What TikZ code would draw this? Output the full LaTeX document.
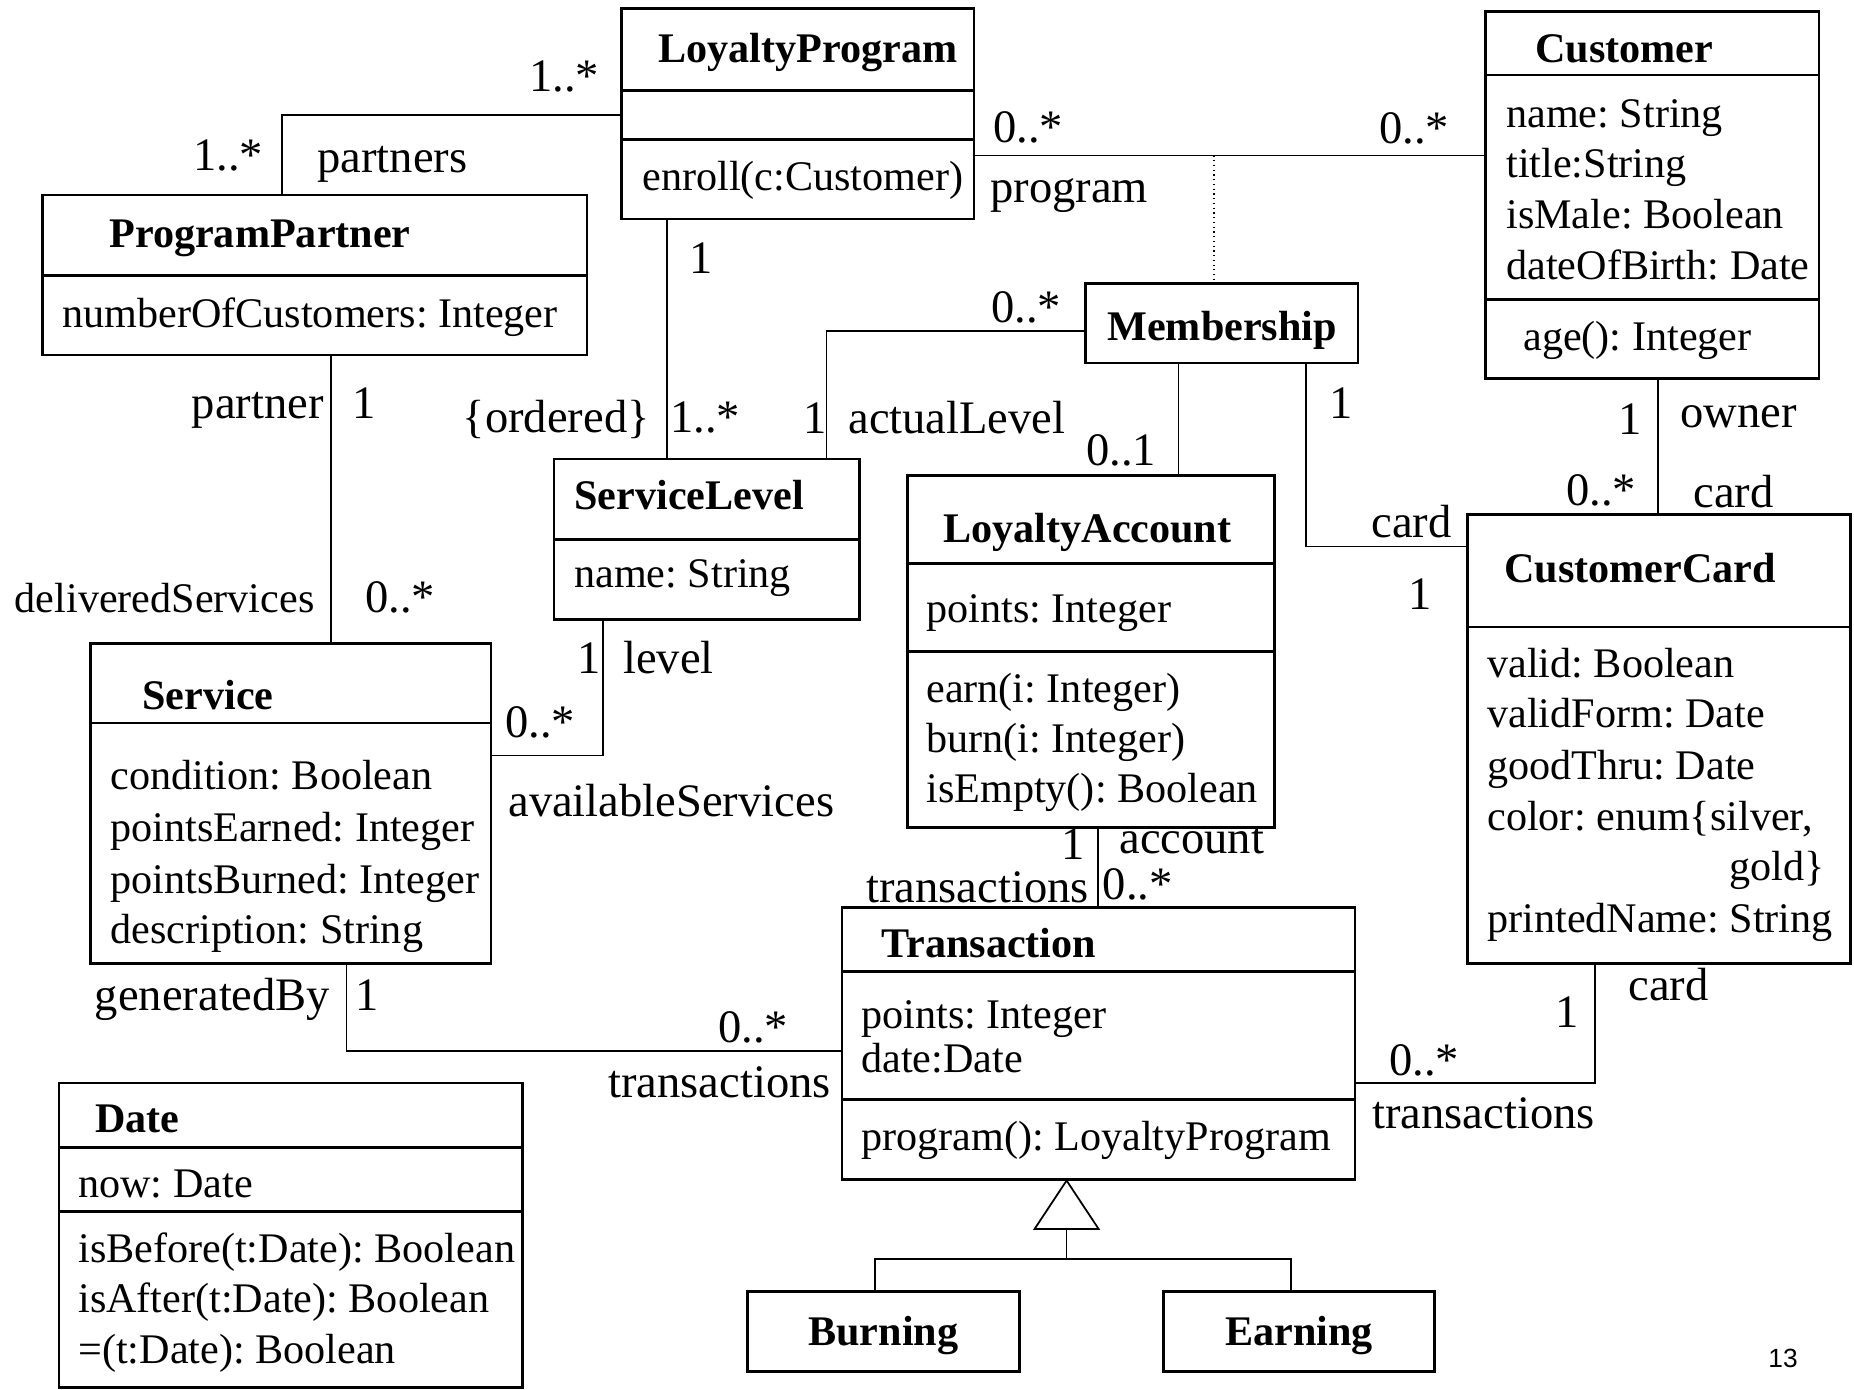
\documentclass[tikz,border=0pt]{standalone}
\usepackage{fontspec}
\setmainfont{Liberation Serif}
\newfontfamily\pagenumfont{Liberation Sans}
\usetikzlibrary{fit}
\frenchspacing
\begin{document}
\frenchspacing
\begin{tikzpicture}[x=0.02cm,y=-0.02cm,
  cls/.style={draw, line width=1.4pt, inner sep=0pt, rectangle},
  divl/.style={line width=1.4pt},
  conn/.style={line width=1pt},
  attr/.style={anchor=base west, inner sep=0pt, font=\fontsize{24}{29}\selectfont},
  ttl/.style={anchor=base west, inner sep=0pt, font=\fontsize{24}{29}\selectfont\bfseries},
  ttlc/.style={ttl, anchor=base},
  lbl/.style={anchor=base west, inner sep=0pt, font=\fontsize{26.5}{30}\selectfont},
  lblr/.style={lbl, anchor=base east}]
\useasboundingbox (0,0) rectangle (1854,1390);
\newcommand\hdiv[2]{\draw[divl] (#1.west |- 0,#2) -- (#1.east |- 0,#2);}
% ---------- class boxes
\node[cls, fit={(621.4,8.3) (974,219)}] (LP) {};
\node[cls, fit={(1485.7,11.4) (1819,378.6)}] (Cust) {};
\node[cls, fit={(42.4,195) (587,355)}] (PP) {};
\node[cls, fit={(1085.7,283.3) (1358,363.2)}] (Mem) {};
\node[cls, fit={(554,459) (859.4,619.6)}] (SL) {};
\node[cls, fit={(907.5,475.4) (1274.6,827.5)}] (LA) {};
\node[cls, fit={(1467.5,514.5) (1850.6,963.7)}] (CC) {};
\node[cls, fit={(90.7,643.6) (490.8,963.3)}] (Svc) {};
\node[cls, fit={(842,907.5) (1355,1179.3)}] (Tr) {};
\node[cls, fit={(59,1083) (522.6,1387.7)}] (Dt) {};
\node[cls, fit={(747.3,1291.7) (1019.3,1371.7)}] (Bu) {};
\node[cls, fit={(1163.5,1291.7) (1434.3,1371.7)}] (Ea) {};
% ---------- compartments
\hdiv{LP}{90.7}\hdiv{LP}{139.3}
\hdiv{Cust}{75}\hdiv{Cust}{299.3}
\hdiv{PP}{275.3}
\hdiv{SL}{539.3}
\hdiv{LA}{563.4}\hdiv{LA}{651.4}
\hdiv{CC}{627}
\hdiv{Svc}{723.2}
\hdiv{Tr}{971.5}\hdiv{Tr}{1099.3}
\hdiv{Dt}{1147.3}\hdiv{Dt}{1211.7}
% ---------- class texts
\node[ttl] (lpT) at (658,62) {LoyaltyProgram};
\node[attr] (lpO) at (642,190) {enroll(c:Customer)};
\node[ttl] (cuT) at (1535,62.5) {Customer};
\node[attr] (cuA1) at (1506,127) {name: String};
\node[attr] (cuA2) at (1506,177.5) {title:String};
\node[attr] (cuA3) at (1506,228.5) {isMale: Boolean};
\node[attr] (cuA4) at (1506,279) {dateOfBirth: Date};
\node[attr] (cuO) at (1523,350) {age(): Integer};
\node[ttl] (ppT) at (109,247) {ProgramPartner};
\node[attr] (ppA) at (62,327) {numberOfCustomers: Integer};
\node[ttl] (meT) at (1107,340) {Membership};
\node[ttl] (slT) at (574,509) {ServiceLevel};
\node[attr] (slA) at (574,587.5) {name: String};
\node[ttl] (laT) at (943,542.4) {LoyaltyAccount};
\node[attr] (laA) at (926,622) {points: Integer};
\node[attr] (laO1) at (926,702) {earn(i: Integer)};
\node[attr] (laO2) at (926,752) {burn(i: Integer)};
\node[attr] (laO3) at (926,802) {isEmpty(): Boolean};
\node[ttl] (ccT) at (1504,582) {CustomerCard};
\node[attr] (ccA1) at (1487,677.5) {valid: Boolean};
\node[attr] (ccA2) at (1487,727) {validForm: Date};
\node[attr] (ccA3) at (1487,779) {goodThru: Date};
\node[attr] (ccA4) at (1487,830.5) {color: enum\{silver,};
\node[attr, anchor=base east] (ccA5) at (1825,880) {gold\}};
\node[attr] (ccA6) at (1487,932) {printedName: String};
\node[ttl] (svT) at (142,709) {Service};
\node[attr] (svA1) at (110,789) {condition: Boolean};
\node[attr] (svA2) at (110,841) {pointsEarned: Integer};
\node[attr] (svA3) at (110,893) {pointsBurned: Integer};
\node[attr] (svA4) at (110,943) {description: String};
\node[ttl] (trT) at (881,957) {Transaction};
\node[attr] (trA1) at (861,1028) {points: Integer};
\node[attr] (trA2) at (861,1072) {date:Date};
\node[attr] (trO) at (861,1150) {program(): LoyaltyProgram};
\node[ttl] (dtT) at (95,1132) {Date};
\node[attr] (dtA) at (78,1197) {now: Date};
\node[attr] (dtO1) at (78,1262) {isBefore(t:Date): Boolean};
\node[attr] (dtO2) at (78,1312) {isAfter(t:Date): Boolean};
\node[attr] (dtO3) at (78,1363) {=(t:Date): Boolean};
\node[ttlc] (buT) at (883.3,1345) {Burning};
\node[ttlc] (eaT) at (1298.9,1345) {Earning};
\node[anchor=base west, inner sep=0pt, font=\pagenumfont\fontsize{15}{18}\selectfont] (pg) at (1768,1367) {13};
% ---------- connectors
\coordinate (k1) at (282,115);
\coordinate (k2) at (1214,155.4);
\coordinate (k3) at (667,300);
\coordinate (k4) at (826.6,331);
\coordinate (k5) at (330.7,500);
\coordinate (k6) at (602.8,755.4);
\coordinate (k7) at (1178.4,400);
\coordinate (k8) at (1306,546.6);
\coordinate (k9) at (1658.3,450);
\coordinate (k10) at (1097.8,860);
\coordinate (k11) at (346.5,1051);
\coordinate (k12) at (1595,1082.7);
\draw[conn] (LP.west |- k1) -- (k1) -- (k1 |- PP.north);
\draw[conn] (LP.east |- k2) -- (Cust.west |- k2);
\draw[line width=0.7pt, dotted] (k2) -- (k2 |- Mem.north);
\draw[conn] (k3 |- LP.south) -- (k3 |- SL.north);
\draw[conn] (Mem.west |- k4) -- (k4) -- (k4 |- SL.north);
\draw[conn] (k5 |- PP.south) -- (k5 |- Svc.north);
\draw[conn] (k6 |- SL.south) -- (k6) -- (Svc.east |- k6);
\draw[conn] (k7 |- Mem.south) -- (k7 |- LA.north);
\draw[conn] (k8 |- Mem.south) -- (k8) -- (CC.west |- k8);
\draw[conn] (k9 |- Cust.south) -- (k9 |- CC.north);
\draw[conn] (k10 |- LA.south) -- (k10 |- Tr.north);
\draw[conn] (k11 |- Svc.south) -- (k11) -- (Tr.west |- k11);
\draw[conn] (k12 |- CC.south) -- (k12) -- (Tr.east |- k12);
% generalization
\coordinate (g0) at (1066.6,1179.3);
\coordinate (g1) at (1066.6,1227.7);
\coordinate (g2) at (1066.6,1259.3);
\coordinate (gl) at (875,1259.3);
\coordinate (gr) at (1291.2,1259.3);
\draw[conn, fill=white] (g0 |- Tr.south) -- ++(-32,48.4) -- ++(64,0) -- cycle;
\draw[conn] (g1) -- (g2);
\draw[line width=1.2pt] (gl |- Bu.north) -- (gl) -- (gr) -- (gr |- Ea.north);
% ---------- association labels
\node[lbl] (m1) at (529,91) {1..*};
\node[lbl] (m2) at (193,170) {1..*};
\node[lbl] (r1) at (317,172) {partners};
\node[lbl] (m3) at (993,142) {0..*};
\node[lbl] (r2) at (990,202) {program};
\node[lbl] (m4) at (1379,143) {0..*};
\node[lbl] (m5) at (689,273) {1};
\node[lbl] (m6) at (991,322) {0..*};
\node[lblr] (r3) at (324,418) {partner};
\node[lbl] (m7) at (352,418) {1};
\node[lblr] (r4) at (650,432) {\{ordered\}};
\node[lbl] (m8) at (670,432) {1..*};
\node[lbl] (m9) at (803,433) {1};
\node[lbl] (r5) at (848,433) {actualLevel};
\node[lbl] (m10) at (1086,465) {0..1};
\node[lbl] (m11) at (1329,418) {1};
\node[lbl] (m12) at (1618,434) {1};
\node[lbl] (r6) at (1680,427) {owner};
\node[lbl] (m13) at (1566,505) {0..*};
\node[lbl] (r7) at (1693,507) {card};
\node[lbl] (r8) at (1371,537) {card};
\node[lbl] (m14) at (1408,609) {1};
\node[anchor=base west, inner sep=0pt, font=\fontsize{24}{29}\selectfont] (r9) at (14.4,612.5) {deliveredServices};
\node[lbl] (m15) at (365,612.5) {0..*};
\node[lbl] (m16) at (577,673) {1};
\node[lbl] (r10) at (623,673) {level};
\node[lbl] (m17) at (505,737.5) {0..*};
\node[lbl] (r11) at (508,816) {availableServices};
\node[lbl] (m18) at (1061,859) {1};
\node[lbl] (r12) at (1119,853.5) {account};
\node[lblr] (r13) at (1089,902) {transactions};
\node[lbl] (m19) at (1102.5,899) {0..*};
\node[lbl] (r14) at (94.6,1010) {generatedBy};
\node[lbl] (m20) at (355,1010) {1};
\node[lbl] (m21) at (718,1042) {0..*};
\node[lblr] (r15) at (831,1097) {transactions};
\node[lbl] (r16) at (1628,1000) {card};
\node[lbl] (m22) at (1555,1027) {1};
\node[lbl] (m23) at (1389,1075) {0..*};
\node[lbl] (r17) at (1372,1128) {transactions};
\end{tikzpicture}
\end{document}
